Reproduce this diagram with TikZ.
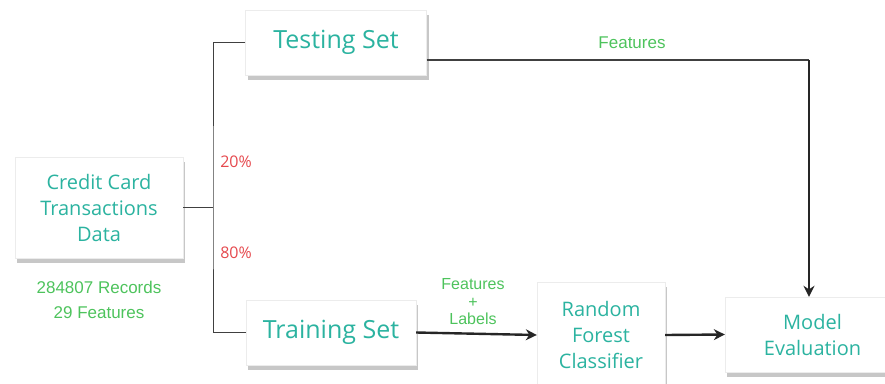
\documentclass[tikz,border=0pt]{standalone}
\usepackage{fontspec}
\setmainfont{Open Sans}
\newfontfamily\notefont{Liberation Sans}
\usetikzlibrary{shadows}
\usetikzlibrary{arrows.meta}
\definecolor{boxtext}{HTML}{2BB3A0}
\definecolor{notegreen}{HTML}{4DC35C}
\definecolor{notered}{HTML}{E5484D}

\begin{document}
\begin{tikzpicture}[x=1pt,y=-1pt]

                \tikzstyle{block} = [rectangle, fill=white, draw=gray!15, text=boxtext, align=center, inner sep=0pt,
                        font=\fontsize{20}{26}\selectfont,
                        drop shadow={shadow xshift=2pt, shadow yshift=-5pt, opacity=0.55, fill=gray!80}]
                \tikzstyle{note}  = [font=\notefont\fontsize{17}{19}\selectfont, text=notegreen, align=center]
                \tikzstyle{pct}   = [font=\fontsize{16}{18}\selectfont, text=notered]
                \tikzstyle{wire}  = [draw=black!75, line width=1pt]
                \tikzstyle{arrow} = [draw=black!85, line width=2.4pt, -{Stealth[length=11pt, width=11pt]}]
                \useasboundingbox (0,0) rectangle (885,383);
                \node [block, minimum width=168pt, minimum height=101pt](data) at (99,207.5) {Credit Card\\Transactions\\Data};
                \node [block, minimum width=181pt, minimum height=65pt, font=\fontsize{25}{30}\selectfont](testing) at (336,42.5) {Testing Set};
                \node [block, minimum width=170pt, minimum height=65pt, font=\fontsize{25}{30}\selectfont](training) at (331,332.5) {Training Set};
                \node [block, minimum width=128pt, minimum height=106pt](forest) at (601,335) {Random\\Forest\\Classifier};
                \node [block, minimum width=175pt, minimum height=75pt](eval) at (812.5,334.5) {Model\\Evaluation};
                \node [note](rec) at (99,287) {284807 Records};
                \node [note](feat) at (99,313) {29 Features};
                \node [pct](p20) at (236,162) {20\%};
                \node [pct](p80) at (236,253) {80\%};
                \node [note](ftest) at (632,43) {Features};
                \node [note, font=\notefont\fontsize{16}{17.5}\selectfont](ftrain) at (473,302) {Features\\+\\Labels};
                \coordinate (split) at (213,207.5);
                \coordinate (corner) at (809,60);
                \draw [wire] (data.east) -- (split);
                \draw [wire] (testing.west) -| (split) |- (training.west);
                \draw [wire, line width=2pt] (testing.east |- corner) -- (corner);
                \draw [arrow, line width=2pt] (corner) -- (corner |- eval.north);
                \draw [arrow] (training.east) -- (forest.west);
                \draw [arrow] (forest.east) -- (eval.west);
\end{tikzpicture}
\end{document}
